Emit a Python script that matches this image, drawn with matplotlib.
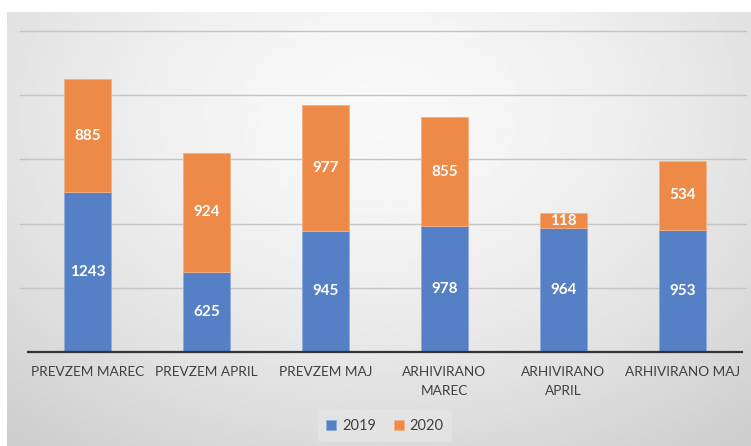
import numpy as np
import matplotlib
matplotlib.use("Agg")
import matplotlib.pyplot as plt

categories = ["PREVZEM MAREC", "PREVZEM APRIL", "PREVZEM MAJ",
              "ARHIVIRANO\nMAREC", "ARHIVIRANO\nAPRIL", "ARHIVIRANO MAJ"]
series_names = ["2019", "2020"]
values_2019 = [1243, 625, 945, 978, 964, 953]
values_2020 = [885, 924, 977, 855, 118, 534]

blue = "#5680C6"
orange = "#EE8A48"
txt = "#404040"

plt.rcParams["font.family"] = ["Lato", "DejaVu Sans"]

fig = plt.figure(figsize=(7.51, 4.46), dpi=100)

# gray gradient panel behind the chart
bg = fig.add_axes([7 / 751, 0, 1 - 7 / 751, (446 - 12) / 446])
gx, gy = np.meshgrid(np.linspace(-1, 1, 300), np.linspace(-1, 1, 200))
r = np.sqrt((gx / 1.1) ** 2 + ((gy - 0.55) / 1.4) ** 2)
shade = 0.975 - 0.17 * np.clip(r, 0, 1.4) ** 1.6 / 1.4 ** 1.6
bg.imshow(shade, cmap="gray", vmin=0, vmax=1, aspect="auto", origin="lower",
          extent=[0, 1, 0, 1], interpolation="bilinear")
bg.axis("off")

ax = fig.add_axes([28 / 751, (446 - 352) / 446, (742 - 28) / 751, (352 - 31) / 446])
ax.patch.set_alpha(0)
x = np.arange(len(categories))
w = 0.39
b1 = ax.bar(x, values_2019, w, color=blue, edgecolor="#8FAADC", linewidth=0.6,
            label=series_names[0], zorder=3)
b2 = ax.bar(x, values_2020, w, bottom=values_2019, color=orange, edgecolor="#F4B183",
            linewidth=0.6, label=series_names[1], zorder=3)

for i in range(len(categories)):
    ax.text(x[i], values_2019[i] / 2, str(values_2019[i]), ha="center", va="center",
            color="white", fontsize=11, fontweight="bold", zorder=4)
    ax.text(x[i], values_2019[i] + values_2020[i] / 2, str(values_2020[i]), ha="center",
            va="center", color="white", fontsize=11, fontweight="bold", zorder=4)

ax.set_xlim(-0.5, len(categories) - 0.5)
ax.set_ylim(0, 2500)
# gridlines run a little past the axis line, as in the original
for gv in [500, 1000, 1500, 2000, 2500]:
    ax.plot([-0.57, 5.53], [gv, gv], color="#C4C4C4", linewidth=1, zorder=0,
            clip_on=False)
ax.tick_params(axis="y", left=False, labelleft=False)
ax.tick_params(axis="x", length=0, pad=10, labelsize=9.8, labelcolor=txt)
ax.set_xticks(x)
ax.set_xticklabels(categories, linespacing=1.7)
for s in ["top", "right", "left"]:
    ax.spines[s].set_visible(False)
ax.spines["bottom"].set_color("#333333")
ax.spines["bottom"].set_linewidth(1.6)
ax.spines["bottom"].set_zorder(5)

leg = fig.legend(handles=[b1, b2], labels=series_names, loc="center",
                 bbox_to_anchor=(385 / 751, (446 - 426) / 446), ncol=2, frameon=True,
                 fontsize=10.5, handlelength=0.7, handleheight=0.7, handletextpad=0.4,
                 columnspacing=1.2, borderpad=0.6)
leg.get_frame().set_facecolor("#E6E6E6")
leg.get_frame().set_edgecolor("none")
leg.get_frame().set_alpha(0.7)
for t in leg.get_texts():
    t.set_color(txt)

fig.savefig("out.png", dpi=100)
